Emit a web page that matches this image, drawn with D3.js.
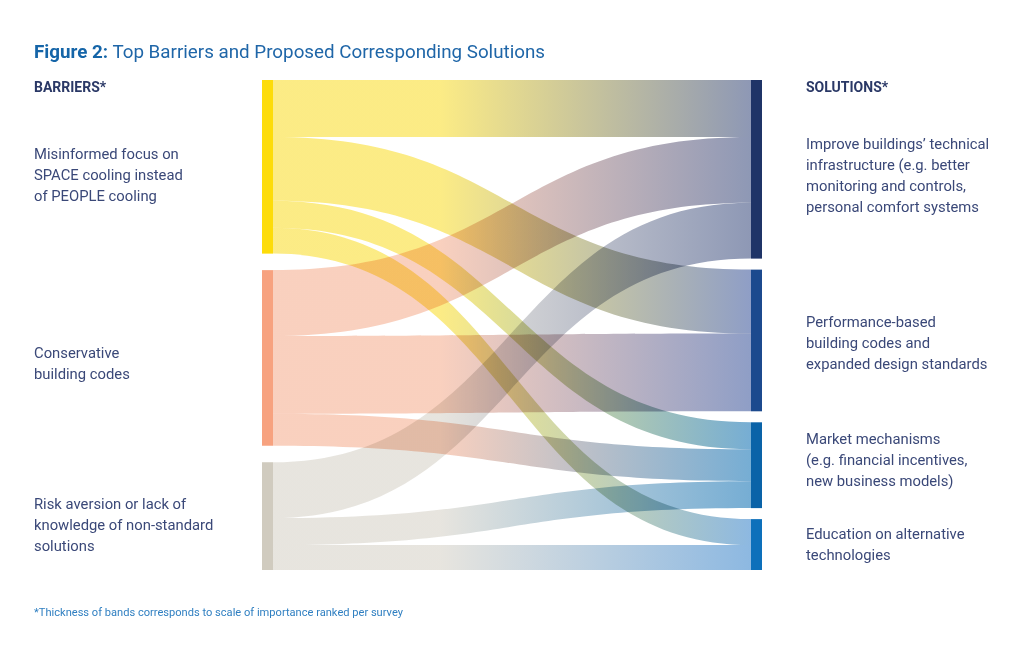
<!DOCTYPE html>
<html>
<head>
<meta charset="utf-8">
<script src="https://cdn.jsdelivr.net/npm/d3@7"></script>
<style>
  html, body { margin: 0; padding: 0; background: #fff; }
  svg { display: block; }
  text { font-family: Roboto, "Noto Sans", sans-serif; }
</style>
</head>
<body>
<svg id="chart" width="1024" height="656"></svg>
<script>
// ---------- DATA ----------
const barriers = [
  "Misinformed focus on|SPACE cooling instead|of PEOPLE cooling",
  "Conservative|building codes",
  "Risk aversion or lack of|knowledge of non-standard|solutions"
];
const solutions = [
  "Improve buildings’ technical|infrastructure (e.g. better|monitoring and controls,|personal comfort systems",
  "Performance-based|building codes and|expanded design standards",
  "Market mechanisms|(e.g. financial incentives,|new business models)",
  "Education on alternative|technologies"
];
// flows: barrier index -> solution index, importance
const flowSource = [0, 0, 0, 0, 1, 1, 1, 2, 2, 2];
const flowTarget = [0, 1, 2, 3, 0, 1, 2, 0, 2, 3];
const flowValue  = [57, 64, 27, 26, 66, 78, 32, 56, 27, 25];

const barrierColors  = ["#fddc0a", "#f7a27f", "#d0cbbf"];
const barrierLinkCol = ["#fbe870", "#f8c8b3", "#e3e0d9"];
const solutionColors = ["#1f3467", "#1c4a8e", "#0a63a8", "#0d70bb"];
const solutionLinkCol= ["#7a86a8", "#7b8dbc", "#5e9fcc", "#79acdc"];

// ---------- LAYOUT ----------
const svg = d3.select("#chart");
svg.append("rect").attr("width", 1024).attr("height", 656).attr("fill", "#fff");

const yTop = 80, yBottom = 570;
const xLeft = 262, xRight = 751, nodeW = 11;
const rightPad = 11;
// fine vertical nudges for label blocks (layout only)
const barrierLabelShift = [4, 2, 5];
const solutionLabelShift = [2, -1, -9, -4];

const flows = flowValue.map((v, i) => ({ s: flowSource[i], t: flowTarget[i], v }));
const leftTot = barriers.map((_, i) => d3.sum(flows.filter(f => f.s === i), f => f.v));
const rightTot = solutions.map((_, i) => d3.sum(flows.filter(f => f.t === i), f => f.v));
const total = d3.sum(leftTot);

const k = (yBottom - yTop - rightPad * (solutions.length - 1)) / total;
const thick = d3.scaleLinear().domain([0, total]).range([0, total * k]);
const leftPad = (yBottom - yTop - thick(total)) / (barriers.length - 1);

function stack(tots, pad) {
  let y = yTop;
  return tots.map(t => { const n = { y0: y, y1: y + thick(t) }; y = n.y1 + pad; return n; });
}
const leftNodes = stack(leftTot, leftPad);
const rightNodes = stack(rightTot, rightPad);

const sOff = leftNodes.map(n => n.y0), tOff = rightNodes.map(n => n.y0);
flows.forEach(f => {
  const w = thick(f.v);
  f.y0t = sOff[f.s]; f.y0b = f.y0t + w; sOff[f.s] += w;
});
flows.slice().sort((a, b) => a.t - b.t || a.s - b.s).forEach(f => {
  const w = thick(f.v);
  f.y1t = tOff[f.t]; f.y1b = f.y1t + w; tOff[f.t] += w;
});

const x0 = xLeft + nodeW, x1 = xRight;
const xm = (x0 + x1) / 2;

const defs = svg.append("defs");
flows.forEach((f, i) => {
  const g = defs.append("linearGradient").attr("id", "g" + i)
    .attr("gradientUnits", "userSpaceOnUse")
    .attr("x1", x0).attr("x2", x1).attr("y1", 0).attr("y2", 0);
  g.append("stop").attr("offset", "0%").attr("stop-color", barrierLinkCol[f.s]);
  g.append("stop").attr("offset", "35%").attr("stop-color", barrierLinkCol[f.s]);
  g.append("stop").attr("offset", "100%").attr("stop-color", solutionLinkCol[f.t]);
});

function band(f) {
  const p = d3.path();
  p.moveTo(x0, f.y0t);
  p.bezierCurveTo(xm, f.y0t, xm, f.y1t, x1, f.y1t);
  p.lineTo(x1, f.y1b);
  p.bezierCurveTo(xm, f.y1b, xm, f.y0b, x0, f.y0b);
  p.closePath();
  return p.toString();
}

svg.append("g").selectAll("path").data(flows).join("path")
  .attr("d", band)
  .attr("fill", (d, i) => `url(#g${i})`)
  .attr("fill-opacity", 0.85)
  .style("mix-blend-mode", "multiply");

svg.append("g").selectAll("rect").data(leftNodes).join("rect")
  .attr("x", xLeft).attr("width", nodeW)
  .attr("y", d => d.y0).attr("height", d => d.y1 - d.y0)
  .attr("fill", (d, i) => barrierColors[i]);
svg.append("g").selectAll("rect").data(rightNodes).join("rect")
  .attr("x", xRight).attr("width", nodeW)
  .attr("y", d => d.y0).attr("height", d => d.y1 - d.y0)
  .attr("fill", (d, i) => solutionColors[i]);

// ---------- TEXT ----------
const title = svg.append("text").attr("x", 34).attr("y", 58)
  .attr("font-size", 18.8).attr("fill", "#1f66a8");
title.append("tspan").attr("font-weight", 700).attr("fill", "#1565a8").text("Figure 2:");
title.append("tspan").text(" Top Barriers and Proposed Corresponding Solutions");

svg.append("text").attr("x", 34).attr("y", 92).attr("font-size", 14)
  .attr("font-weight", 700).attr("fill", "#2a3866").text("BARRIERS*");
svg.append("text").attr("x", 806).attr("y", 92).attr("font-size", 14)
  .attr("font-weight", 700).attr("fill", "#2a3866").text("SOLUTIONS*");

const lineH = 21;
function labels(arr, nodes, shifts, x) {
  arr.forEach((s, i) => {
    const lines = s.split("|");
    const c = (nodes[i].y0 + nodes[i].y1) / 2 + 9 + shifts[i];
    const t = svg.append("text").attr("x", x).attr("font-size", 14.8).attr("fill", "#3a4878");
    lines.forEach((l, j) => {
      t.append("tspan").attr("x", x)
        .attr("y", c + (j - (lines.length - 1) / 2) * lineH)
        .text(l);
    });
  });
}
labels(barriers, leftNodes, barrierLabelShift, 34);
labels(solutions, rightNodes, solutionLabelShift, 806);

svg.append("text").attr("x", 34).attr("y", 616).attr("font-size", 11.1)
  .attr("fill", "#2f7fc1")
  .text("*Thickness of bands corresponds to scale of importance ranked per survey");
</script>
</body>
</html>
